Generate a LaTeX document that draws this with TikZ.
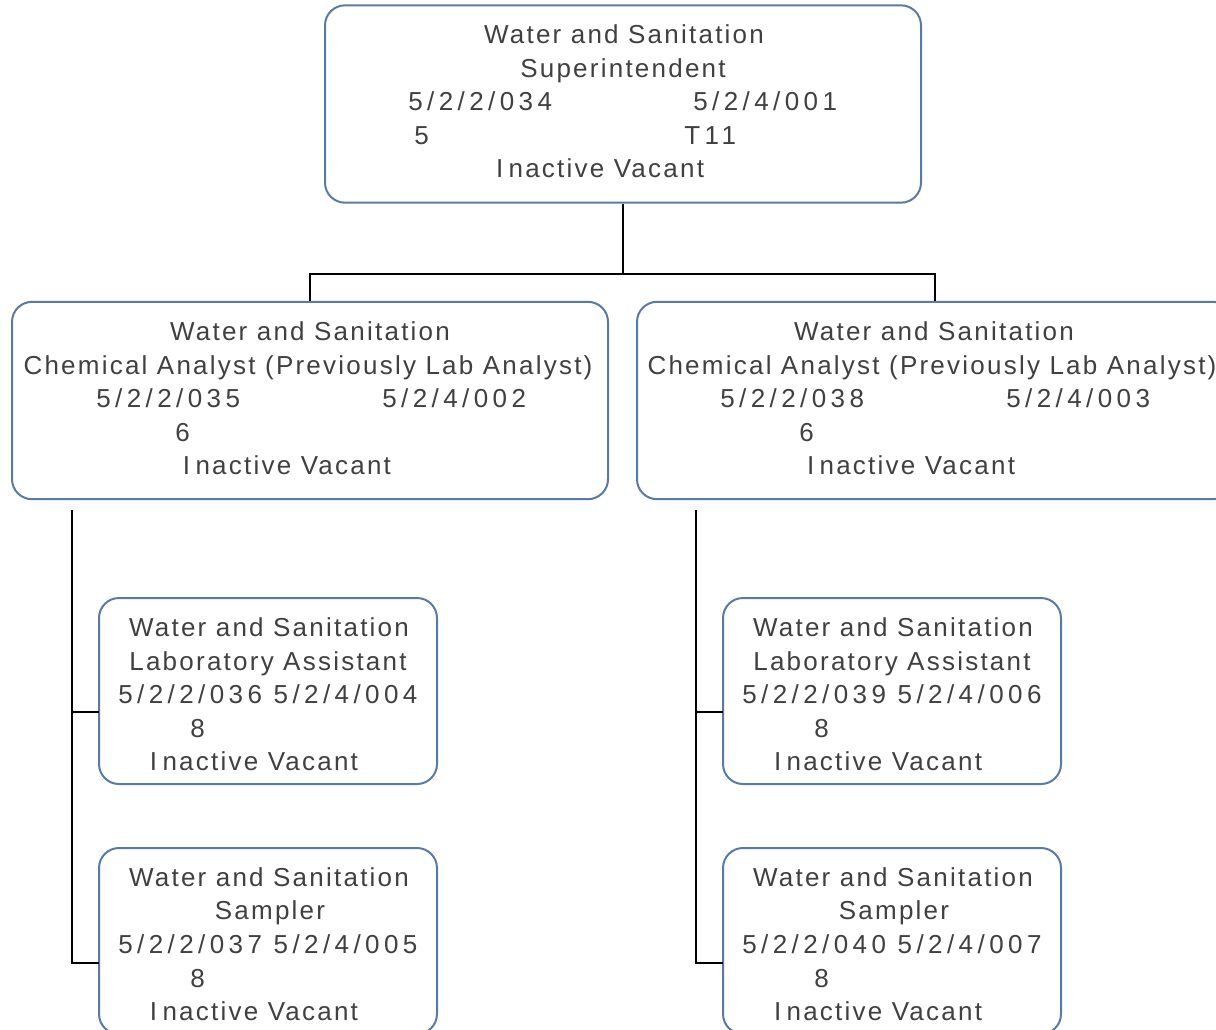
\documentclass[tikz,border=0pt]{standalone}
\usepackage{fontspec}
\setmainfont{Liberation Sans}
\newfontfamily\wfont[LetterSpace=8.6]{Liberation Sans}
\newfontfamily\dfont[LetterSpace=17]{Liberation Sans}
\definecolor{bord}{HTML}{5A7AA6}
\definecolor{txt}{HTML}{404040}
\begin{document}
\begin{tikzpicture}[x=0.75pt,y=-0.75pt,
  box/.style={draw=bord,line width=1.5pt,rounded corners=15pt,fill=white,inner sep=0pt},
  bigbox/.style={box,minimum width=447pt,minimum height=148pt},
  smallbox/.style={box,minimum width=253.5pt,minimum height=139.5pt},
  lbl/.style={anchor=base,inner sep=0pt,text=txt,font=\fontsize{19.5pt}{24pt}\wfont},
  num/.style={anchor=base west,inner sep=0pt,text=txt,font=\fontsize{19.5pt}{24pt}\dfont},
  link/.style={draw=black,line width=1.8pt}
]
\useasboundingbox (0,0) rectangle (1216,1029);
\clip (0,0) rectangle (1216,1029);

% boxes
\node[bigbox] (top) at (623,104) {};
\node[bigbox] (ml) at (310,400.5) {};
\node[bigbox] (mr) at (935,400.5) {};
\node[smallbox] (lc1) at (268,691) {};
\node[smallbox] (lc2) at (268,941) {};
\node[smallbox] (rc1) at (892,691) {};
\node[smallbox] (rc2) at (892,941) {};

% connectors
\coordinate (bus) at (623,274);
\draw[link] (top.south) -- (bus);
\draw[link] (ml.north) |- (bus) -| (mr.north);

\coordinate (lv) at (72,510);
\coordinate (lj1) at (99,712);
\coordinate (lj2) at (99,963);
\draw[link] (lv) |- (lj2);
\draw[link] (lj1) -- (lv |- lj1);

\coordinate (rv) at (696,510);
\coordinate (rj1) at (723,712);
\coordinate (rj2) at (723,963);
\draw[link] (rv) |- (rj2);
\draw[link] (rj1) -- (rv |- rj1);

% top box text
\node[lbl] (t1) at (624,43) {Water and Sanitation};
\node[lbl] (t2) at (623,77) {Superintendent};
\node[num] (t3) at (408,110) {5/2/2/034};
\node[num] (t4) at (693,110) {5/2/4/001};
\node[num] (t5) at (414,144) {5};
\node[num] (t6) at (684,144) {T11};
\node[lbl] (t7) at (600,177) {I\kern4pt nactive Vacant};

% middle left text
\node[lbl] (a1) at (310,340) {Water and Sanitation};
\node[lbl] (a2) at (308,374) {Chemical Analyst (Previously Lab Analyst)};
\node[num] (a3) at (96,407) {5/2/2/035};
\node[num] (a4) at (382,407) {5/2/4/002};
\node[num] (a5) at (175,441) {6};
\node[lbl] (a6) at (287,474) {I\kern4pt nactive Vacant};

% middle right text
\node[lbl] (b1) at (934,340) {Water and Sanitation};
\node[lbl] (b2) at (932,374) {Chemical Analyst (Previously Lab Analyst)};
\node[num] (b3) at (720,407) {5/2/2/038};
\node[num] (b4) at (1006,407) {5/2/4/003};
\node[num] (b5) at (799,441) {6};
\node[lbl] (b6) at (911,474) {I\kern4pt nactive Vacant};

% child left 1
\node[lbl] (c1) at (269,636) {Water and Sanitation};
\node[lbl] (c2) at (268,670) {Laboratory Assistant};
\node[num] (c3) at (118,703) {5/2/2/036 5/2/4/004};
\node[num] (c4) at (190,737) {8};
\node[lbl] (c5) at (254,770) {I\kern4pt nactive Vacant};

% child left 2
\node[lbl] (d1) at (269,886) {Water and Sanitation};
\node[lbl] (d2) at (270,919) {Sampler};
\node[num] (d3) at (118,953) {5/2/2/037 5/2/4/005};
\node[num] (d4) at (190,987) {8};
\node[lbl] (d5) at (254,1020) {I\kern4pt nactive Vacant};

% child right 1
\node[lbl] (e1) at (893,636) {Water and Sanitation};
\node[lbl] (e2) at (892,670) {Laboratory Assistant};
\node[num] (e3) at (742,703) {5/2/2/039 5/2/4/006};
\node[num] (e4) at (814,737) {8};
\node[lbl] (e5) at (878,770) {I\kern4pt nactive Vacant};

% child right 2
\node[lbl] (f1) at (893,886) {Water and Sanitation};
\node[lbl] (f2) at (894,919) {Sampler};
\node[num] (f3) at (742,953) {5/2/2/040 5/2/4/007};
\node[num] (f4) at (814,987) {8};
\node[lbl] (f5) at (878,1020) {I\kern4pt nactive Vacant};
\end{tikzpicture}
\end{document}
